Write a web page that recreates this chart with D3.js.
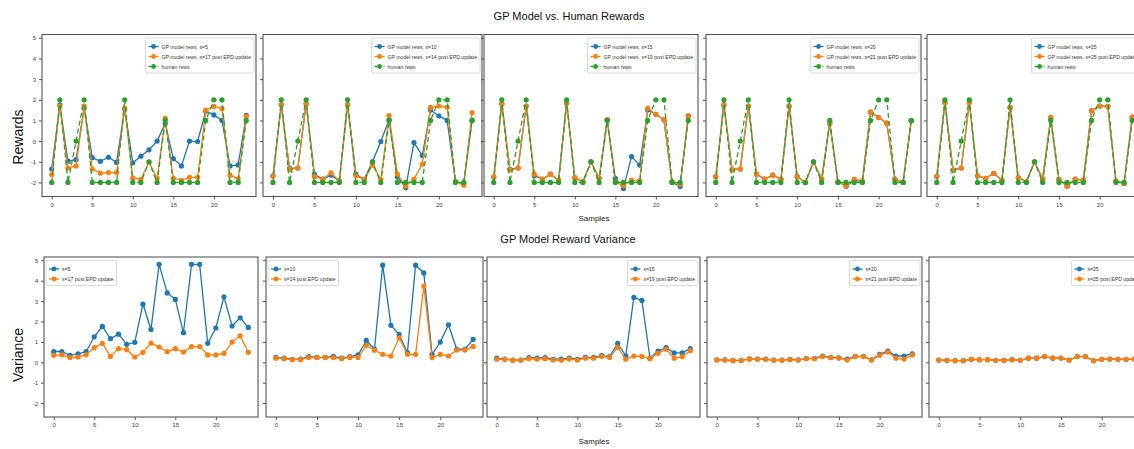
<!DOCTYPE html>
<html>
<head>
<title>GP Model vs. Human Rewards</title>
<style>
  body { margin: 0; background: #fff; }
  svg { font-family: "Liberation Sans", Arial, sans-serif; }
  .frame { fill: none; stroke: #555; stroke-width: 1.1px; }
  .tick line { stroke: #555; }
  .tick text { fill: #444; font-size: 6px; }
  .domain { display: none; }
  .legend rect { fill: #fff; fill-opacity: 0.85; stroke: #d0d0d0; stroke-width: 0.8px; }
  .legend text { fill: #333; font-size: 6.2px; }
</style>
</head>
<body>
<script src="https://d3js.org/d3.v7.min.js"></script>
<script>

// sample index along the x axis
var samples = [0,1,2,3,4,5,6,7,8,9,10,11,12,13,14,15,16,17,18,19,20,21,22,23,24];
var xTicks = [0, 5, 10, 15, 20];
var yTicks = [-2, -1, 0, 1, 2, 3, 4, 5];

// human rewards (same for every panel)
var humanRews = [-2,2,-2,0,2,-2,-2,-2,-2,2,-2,-2,-1,-2,1,-2,-2,-2,-2,1,2,2,-2,-2,1];

// GP model rewards before / after EPD update
var rewS5  = [-1.35,1.75,-0.97,-0.9,1.6,-0.8,-0.98,-0.78,-1.03,1.55,-1.05,-0.73,-0.42,0.0,0.85,-0.85,-1.2,0.0,-0.02,1.45,1.27,1.0,-1.2,-1.15,1.25];
var rewS17 = [-1.62,1.7,-1.3,-1.2,1.7,-1.35,-1.55,-1.52,-1.52,1.6,-1.78,-1.85,-1.02,-1.8,1.1,-1.8,-1.9,-1.75,-1.75,1.5,1.68,1.57,-1.65,-1.82,1.2];
var rewS10 = [-1.68,1.76,-1.32,-1.3,1.82,-1.6,-1.84,-1.65,-1.92,1.76,-1.6,-1.85,-1.0,-0.02,1.03,-1.72,-2.26,-0.07,-0.7,1.51,1.22,1.0,-1.97,-2.05,1.0];
var rewS14 = [-1.7,1.76,-1.37,-1.3,1.8,-1.72,-1.84,-1.53,-1.92,1.76,-1.68,-1.85,-1.16,-1.85,1.24,-1.6,-2.18,-1.84,-1.12,1.63,1.7,1.64,-1.97,-2.13,1.38];
var rewS15 = [-1.75,1.8,-1.37,-1.3,1.7,-1.68,-1.84,-1.6,-1.89,1.84,-1.77,-1.97,-1.0,-1.8,1.03,-1.8,-2.29,-0.75,-1.16,1.51,1.3,1.03,-2.0,-2.2,1.22];
var rewS19 = [-1.72,1.8,-1.4,-1.3,1.7,-1.6,-1.84,-1.6,-1.89,1.84,-1.77,-1.97,-1.0,-1.8,1.03,-1.97,-2.16,-1.89,-1.92,1.6,1.3,1.03,-1.95,-2.1,1.22];
var rewS20 = [-1.72,1.75,-1.38,-1.35,1.7,-1.6,-1.84,-1.65,-1.84,1.7,-1.72,-2.0,-1.0,-1.84,0.87,-1.97,-2.18,-1.9,-1.95,1.4,1.14,0.87,-1.84,-2.0,0.98];
var rewS21 = [-1.72,1.75,-1.38,-1.35,1.7,-1.6,-1.84,-1.65,-1.84,1.7,-1.72,-2.0,-1.0,-1.84,0.87,-1.97,-2.16,-1.84,-1.92,1.4,1.14,0.87,-1.84,-2.0,0.98];
var rewS25 = [-1.7,1.87,-1.4,-1.3,1.87,-1.68,-1.8,-1.56,-1.89,1.64,-1.77,-1.97,-1.0,-1.84,1.14,-1.86,-2.18,-1.84,-1.89,1.47,1.7,1.68,-1.94,-2.05,1.16];

// GP model reward variance
var varS5  = [0.52,0.52,0.34,0.41,0.52,1.25,1.76,1.16,1.38,0.88,0.98,2.85,1.61,4.8,3.4,3.08,1.45,4.8,4.8,0.93,1.68,3.21,1.78,2.18,1.71];
var varS17 = [0.34,0.37,0.23,0.26,0.37,0.72,0.93,0.29,0.67,0.62,0.26,0.49,0.94,0.75,0.52,0.67,0.5,0.77,0.77,0.36,0.36,0.44,0.99,1.3,0.49];
var varS10 = [0.24,0.2,0.15,0.16,0.28,0.24,0.24,0.29,0.2,0.28,0.36,1.07,0.65,4.76,1.81,1.37,0.47,4.76,4.38,0.39,0.99,1.84,0.64,0.64,1.12];
var varS14 = [0.2,0.18,0.13,0.13,0.23,0.23,0.23,0.23,0.18,0.24,0.24,0.83,0.59,0.39,0.31,1.2,0.39,0.39,3.73,0.23,0.39,0.31,0.6,0.6,0.78];
var varS15 = [0.2,0.16,0.11,0.11,0.23,0.21,0.23,0.15,0.16,0.2,0.15,0.24,0.24,0.33,0.28,0.93,0.31,3.18,3.03,0.2,0.55,0.72,0.46,0.46,0.67];
var varS19 = [0.15,0.15,0.1,0.1,0.18,0.15,0.18,0.11,0.1,0.16,0.11,0.2,0.2,0.28,0.24,0.73,0.15,0.31,0.29,0.18,0.44,0.64,0.2,0.28,0.57];
var varS20 = [0.12,0.12,0.09,0.09,0.17,0.16,0.16,0.11,0.11,0.14,0.12,0.19,0.19,0.31,0.24,0.22,0.16,0.29,0.29,0.12,0.39,0.55,0.31,0.31,0.42];
var varS21 = [0.11,0.11,0.08,0.08,0.16,0.15,0.15,0.1,0.1,0.13,0.11,0.18,0.18,0.28,0.23,0.21,0.11,0.28,0.28,0.11,0.34,0.5,0.2,0.16,0.36];
var varS25 = [0.11,0.1,0.08,0.08,0.15,0.13,0.13,0.1,0.1,0.13,0.1,0.2,0.2,0.28,0.2,0.21,0.11,0.28,0.28,0.08,0.15,0.16,0.15,0.15,0.16];

var beforeS = [5, 10, 15, 20, 25];
var afterS  = [17, 14, 19, 21, 25];
var rewBefore = [rewS5, rewS10, rewS15, rewS20, rewS25];
var rewAfter  = [rewS17, rewS14, rewS19, rewS21, rewS25];
var varBefore = [varS5, varS10, varS15, varS20, varS25];
var varAfter  = [varS17, varS14, varS19, varS21, varS25];

var blue = "#1f77b4", orange = "#ff7f0e", green = "#2ca02c";

var W = 1134, H = 449;
var svg = d3.select("body").append("svg")
    .attr("width", W)
    .attr("height", H);

// panel placement
var topLefts = [42, 263, 484, 706, 927], topWidths = [214, 219, 214, 215, 215];
var botLefts = [44, 266, 487, 707, 929], botWidths = [214, 217, 213, 215, 215];
var topRow = {y: 34.5, h: 162}, botRow = {y: 257, h: 160};

// plain hyphen for negatives, like matplotlib's exported png
var intFmt = function (d) { return String(d); };

// legend text is condensed in the original
var squeeze = 0.83;

function drawPanel(left, top, width, height, series, showY, legendLeft) {
  var g = svg.append("g").attr("transform", "translate(" + left + "," + top + ")");

  var x = d3.scaleLinear().domain([-1.2, 25.2]).range([0, width]);
  var y = d3.scaleLinear().domain([-2.68, 5.16]).range([height, 0]);

  var clip = "clip" + Math.round(left) + "_" + Math.round(top);
  g.append("clipPath").attr("id", clip)
    .append("rect").attr("width", width).attr("height", height);

  g.append("g")
    .attr("transform", "translate(0," + height + ")")
    .call(d3.axisBottom(x).tickValues(xTicks).tickSize(3).tickPadding(3).tickFormat(intFmt));

  g.append("g")
    .call(d3.axisLeft(y).tickValues(yTicks).tickSize(3).tickPadding(3)
      .tickFormat(showY ? intFmt : ""));

  var line = d3.line()
      .x(function (d, i) { return x(samples[i]); })
      .y(function (d) { return y(d); });

  var plot = g.append("g").attr("clip-path", "url(#" + clip + ")");

  series.forEach(function (s) {
    plot.append("path")
      .datum(s.values)
      .attr("d", line)
      .attr("fill", "none")
      .attr("stroke", s.color)
      .attr("stroke-width", 1.3)
      .attr("stroke-dasharray", s.dash ? "5,3" : null);

    plot.selectAll(null)
      .data(s.values)
      .enter().append("circle")
      .attr("cx", function (d, i) { return x(samples[i]); })
      .attr("cy", function (d) { return y(d); })
      .attr("r", 2.6)
      .attr("fill", s.color);
  });

  g.append("rect").attr("class", "frame").attr("width", width).attr("height", height);

  // legend
  var leg = g.append("g").attr("class", "legend");
  var box = leg.append("rect").attr("rx", 1.5).attr("ry", 1.5);
  var rowH = 10;
  var maxW = 0;
  series.forEach(function (s, i) {
    var ry = 8.5 + i * rowH;
    leg.append("line")
      .attr("x1", 3).attr("x2", 13).attr("y1", ry).attr("y2", ry)
      .attr("stroke", s.color).attr("stroke-width", 1.3)
      .attr("stroke-dasharray", s.dash ? "3,1.5" : null);
    leg.append("circle").attr("cx", 8).attr("cy", ry).attr("r", 2.4).attr("fill", s.color);
    var t = leg.append("text")
      .attr("transform", "translate(16," + (ry + 2.2) + ") scale(" + squeeze + ",1)")
      .text(s.label);
    maxW = Math.max(maxW, t.node().getComputedTextLength() * squeeze);
  });
  var bw = 16 + maxW + 3, bh = 5 + series.length * rowH;
  box.attr("width", bw).attr("height", bh);
  var lx = legendLeft ? 2 : width - bw - 2;
  leg.attr("transform", "translate(" + lx + ",3.5)");
}

for (var p = 0; p < 5; p++) {
  drawPanel(topLefts[p], topRow.y, topWidths[p], topRow.h, [
    {values: rewBefore[p], color: blue, label: "GP model rews, s=" + beforeS[p]},
    {values: rewAfter[p], color: orange, label: "GP model rews, s=" + afterS[p] + " post EPD update"},
    {values: humanRews, color: green, dash: true, label: "human rews"}
  ], p === 0, false);

  drawPanel(botLefts[p], botRow.y, botWidths[p], botRow.h, [
    {values: varBefore[p], color: blue, label: "s=" + beforeS[p]},
    {values: varAfter[p], color: orange, label: "s=" + afterS[p] + " post EPD update"}
  ], p === 0, p < 2);
}

// titles and axis labels
svg.append("text").attr("x", 569).attr("y", 20).attr("text-anchor", "middle")
  .style("font-size", "11px").attr("fill", "#111").text("GP Model vs. Human Rewards");
svg.append("text").attr("x", 568).attr("y", 243).attr("text-anchor", "middle")
  .style("font-size", "11px").attr("fill", "#111").text("GP Model Reward Variance");
svg.append("text").attr("x", 594).attr("y", 221).attr("text-anchor", "middle")
  .style("font-size", "8px").attr("fill", "#222").text("Samples");
svg.append("text").attr("x", 594).attr("y", 444).attr("text-anchor", "middle")
  .style("font-size", "8px").attr("fill", "#222").text("Samples");
svg.append("text").attr("transform", "translate(23,137) rotate(-90)").attr("text-anchor", "middle")
  .style("font-size", "14px").attr("fill", "#111").text("Rewards");
svg.append("text").attr("transform", "translate(23,355) rotate(-90)").attr("text-anchor", "middle")
  .style("font-size", "14px").attr("fill", "#111").text("Variance");

</script>
</body>
</html>
